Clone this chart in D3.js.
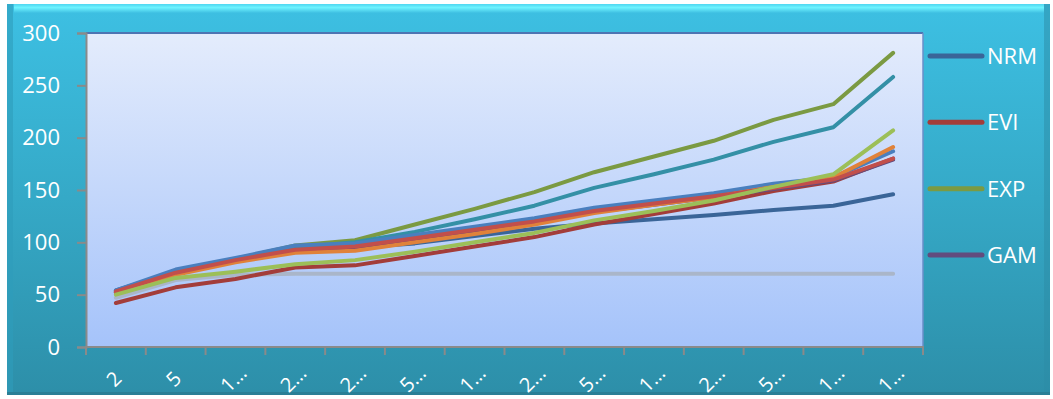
<!DOCTYPE html>
<html>
<head>
<meta charset="utf-8">
<script src="https://cdn.jsdelivr.net/npm/d3@7"></script>
<style>
  html, body { margin: 0; padding: 0; background: #f2f2f2; }
  svg { display: block; font-family: "Open Sans", Lato, sans-serif; }
</style>
</head>
<body>
<div id="app"></div>
<script>
// x tick labels (as they appear, truncated)
const categories = ['2', '5', '1…', '2…', '2…', '5…', '1…', '2…', '5…', '1…', '2…', '5…', '1…', '1…'];

// series values
const nrm    = [54, 72, 84, 92, 95, 99, 106, 113, 118, 122, 126, 131, 135, 146];
const evi    = [42, 57, 65, 76, 78, 87, 96, 105, 117, 127, 137, 149, 158, 180];
const exp    = [53, 70, 84, 97, 102, 117, 132, 148, 167, 182, 197, 217, 232, 281];
const gam    = [52, 70, 82, 92, 95, 103, 111, 119, 129, 136, 143, 151, 159, 179];
const s5     = [52, 70, 83, 95, 100, 110, 122, 135, 152, 165, 179, 196, 210, 258];
const s6     = [54, 74, 85, 97, 99, 107, 115, 123, 133, 140, 147, 156, 162, 187];
const s7     = [52, 69, 81, 90, 92, 100, 108, 117, 128, 136, 143, 153, 162, 191];
const s8     = [53, 71, 83, 93, 96, 104, 112, 120, 130, 137, 144, 152, 160, 180];
const s9     = [50, 66, 72, 79, 83, 91, 100, 109, 121, 130, 140, 153, 165, 207];
const s10    = [47, 64, 69, 70, 70, 70, 70, 70, 70, 70, 70, 70, 70, 70];

const yTicks = [0, 50, 100, 150, 200, 250, 300];

// legend only shows the first four (the rest are cut off in the original)
const legendNames = ['NRM', 'EVI', 'EXP', 'GAM'];

// drawing order: later ones on top
const series = [
  { name: 's10', values: s10, color: '#aab6c9' },
  { name: 'NRM', values: nrm, color: '#3a6598' },
  { name: 'EVI', values: evi, color: '#a33d3a' },
  { name: 'EXP', values: exp, color: '#7b9a42' },
  { name: 's5',  values: s5,  color: '#3490a6' },
  { name: 'GAM', values: gam, color: '#624c7e' },
  { name: 's6',  values: s6,  color: '#4a7fbe' },
  { name: 's7',  values: s7,  color: '#e0823a' },
  { name: 's8',  values: s8,  color: '#c24f4b' },
  { name: 's9',  values: s9,  color: '#9cbf58' }
];

const width = 1053, height = 399;
const plot = { left: 86, top: 33, right: 923, bottom: 347 };

const svg = d3.select('#app')
  .append('svg')
    .attr('width', width)
    .attr('height', height);

const defs = svg.append('defs');

const bg = defs.append('linearGradient').attr('id', 'bg').attr('x1', 0).attr('y1', 0).attr('x2', 0).attr('y2', 1);
bg.append('stop').attr('offset', '0%').attr('stop-color', '#3dc0e3');
bg.append('stop').attr('offset', '50%').attr('stop-color', '#35a9c7');
bg.append('stop').attr('offset', '100%').attr('stop-color', '#2d8fa9');

const hi = defs.append('linearGradient').attr('id', 'hi').attr('x1', 0).attr('y1', 0).attr('x2', 0).attr('y2', 1);
hi.append('stop').attr('offset', '0%').attr('stop-color', '#4fd6f0');
hi.append('stop').attr('offset', '40%').attr('stop-color', '#6ef3ff');
hi.append('stop').attr('offset', '100%').attr('stop-color', '#3ebfe2');

const pg = defs.append('linearGradient').attr('id', 'pg').attr('x1', 0).attr('y1', 0).attr('x2', 0).attr('y2', 1);
pg.append('stop').attr('offset', '0%').attr('stop-color', '#e4ecfc');
pg.append('stop').attr('offset', '100%').attr('stop-color', '#a5c3fa');

// outer frame with bevel
svg.append('rect').attr('x', 0).attr('y', 0).attr('width', width).attr('height', height).attr('fill', '#ffffff');
svg.append('rect').attr('x', 7).attr('y', 4).attr('width', 1043).attr('height', 391).attr('fill', '#2a7f96');
svg.append('rect').attr('x', 7).attr('y', 4).attr('width', 1043).attr('height', 388).attr('fill', 'url(#bg)');
svg.append('rect').attr('x', 14).attr('y', 4).attr('width', 1030).attr('height', 9).attr('fill', 'url(#hi)');
svg.append('rect').attr('x', 7).attr('y', 4).attr('width', 6).attr('height', 388).attr('fill', '#2f9cbb').attr('opacity', 0.6);
svg.append('rect').attr('x', 1044).attr('y', 4).attr('width', 6).attr('height', 388).attr('fill', '#2b8ca6').attr('opacity', 0.5);

// scales
const x = d3.scaleBand()
  .domain(d3.range(categories.length))
  .range([plot.left, plot.right])
  .padding(0);

const y = d3.scaleLinear()
  .domain([0, 300])
  .range([plot.bottom, plot.top]);

// plot area
svg.append('rect')
  .attr('x', plot.left).attr('y', plot.top)
  .attr('width', plot.right - plot.left).attr('height', plot.bottom - plot.top)
  .attr('fill', 'url(#pg)');
svg.append('line')
  .attr('x1', plot.left).attr('x2', plot.right)
  .attr('y1', plot.top).attr('y2', plot.top)
  .attr('stroke', '#4d74b3').attr('stroke-width', 2);
svg.append('line')
  .attr('x1', plot.right).attr('x2', plot.right)
  .attr('y1', plot.top).attr('y2', plot.bottom)
  .attr('stroke', '#6a8fc8').attr('stroke-width', 1.5);

// y axis
const yAxis = svg.append('g')
  .attr('transform', `translate(${plot.left},0)`)
  .call(d3.axisLeft(y).tickValues(yTicks).tickSize(9).tickPadding(17));
yAxis.select('.domain').attr('stroke', '#8a8a8a').attr('stroke-width', 2);
yAxis.selectAll('.tick line').attr('stroke', '#8a8a8a').attr('stroke-width', 2);
yAxis.selectAll('.tick text')
  .attr('fill', '#ffffff')
  .style('font-size', '22px')
  .style('font-family', '"Open Sans", Lato, sans-serif');

// x axis: boundary ticks + rotated labels
const xAxis = svg.append('g')
  .attr('transform', `translate(0,${plot.bottom})`)
  .call(d3.axisBottom(x).tickSize(0).tickFormat(i => categories[i]));
xAxis.select('.domain').remove();
xAxis.selectAll('.tick text')
  .attr('fill', '#ffffff')
  .attr('y', 0)
  .attr('dy', '0.35em')
  .attr('text-anchor', 'middle')
  .attr('transform', 'translate(-2,32) rotate(-45)')
  .style('font-size', '20px')
  .style('font-family', '"Open Sans", Lato, sans-serif');

const bounds = d3.range(categories.length).map(i => x(i)).concat([x.range()[1]]);
xAxis.selectAll('.bound')
  .data(bounds)
  .join('line')
    .attr('class', 'bound')
    .attr('x1', d => d).attr('x2', d => d)
    .attr('y1', 0).attr('y2', 8)
    .attr('stroke', '#8a8a8a').attr('stroke-width', 2);
xAxis.append('line')
  .attr('x1', plot.left - 1).attr('x2', plot.right + 1)
  .attr('y1', 0).attr('y2', 0)
  .attr('stroke', '#8a8a8a').attr('stroke-width', 2);

// lines
const line = d3.line()
  .x((d, i) => x(i) + x.bandwidth() / 2)
  .y(d => y(d));

svg.append('g')
  .selectAll('path')
  .data(series)
  .join('path')
    .attr('d', d => line(d.values))
    .attr('fill', 'none')
    .attr('stroke', d => d.color)
    .attr('stroke-width', 4)
    .attr('stroke-linecap', 'round')
    .attr('stroke-linejoin', 'round');

// legend
const legendY = d3.scalePoint().domain(legendNames).range([56, 255]);
const legend = svg.append('g')
  .selectAll('g')
  .data(legendNames)
  .join('g')
    .attr('transform', d => `translate(930,${legendY(d)})`);
legend.append('line')
  .attr('x1', 0).attr('x2', 52)
  .attr('stroke', d => series.find(s => s.name === d).color)
  .attr('stroke-width', 5)
  .attr('stroke-linecap', 'round');
legend.append('text')
  .attr('x', 57)
  .attr('dy', '0.36em')
  .attr('fill', '#ffffff')
  .style('font-size', '22px')
  .text(d => d);
</script>
</body>
</html>
